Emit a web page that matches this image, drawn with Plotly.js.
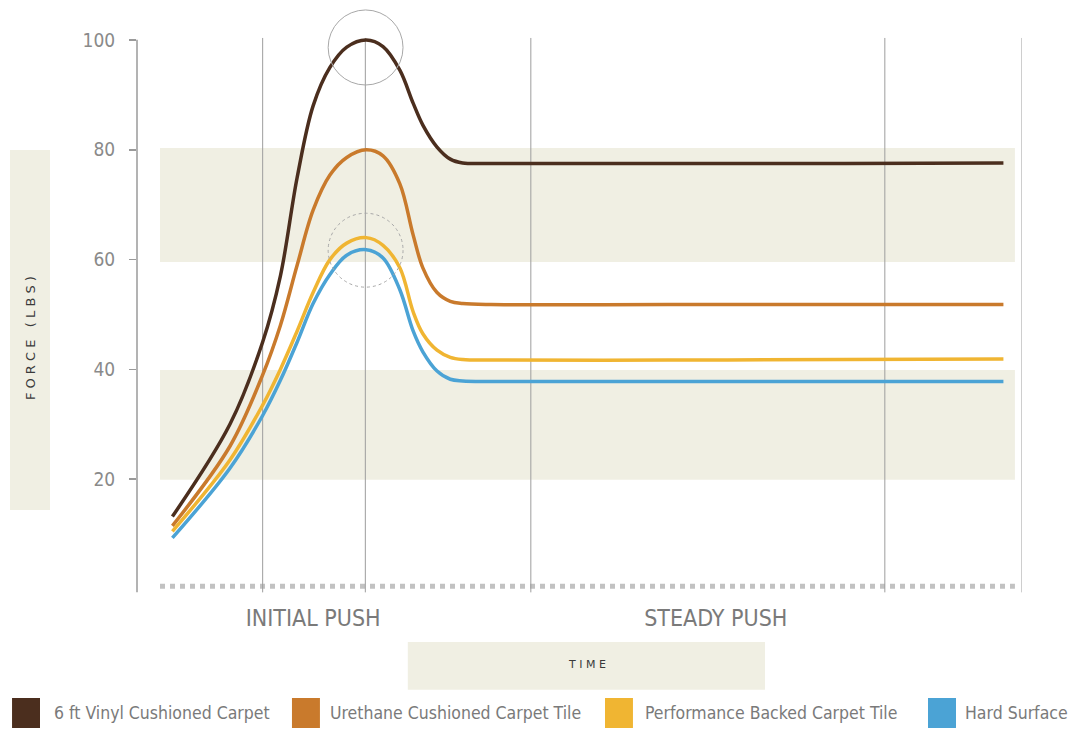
<!DOCTYPE html>
<html>
<head>
<meta charset="utf-8">
<script src="https://cdn.plot.ly/plotly-3.0.1.min.js"></script>
<style>
  html, body { margin: 0; padding: 0; background: #ffffff; }
  #chart { width: 1070px; height: 729px; }
</style>
</head>
<body>
<div id="chart"></div>
<script>
// ---- data (time in arbitrary units, force in lbs) ----
const time = [4.0, 10.5, 14.2, 16.2, 18.1, 19.9, 21.8, 23.7, 25.9, 27.8, 29.7, 31.2, 32.3, 33.9, 35.4, 36.8, 40, 60, 80, 97.9];
const vinylCushioned    = [13.2, 30.0, 45.0, 57.0, 75.0, 88.0, 95.0, 98.7, 100.0, 98.8, 94.5, 88.5, 84.5, 80.5, 78.3, 77.6, 77.5, 77.5, 77.5, 77.6];
const urethaneCushioned = [11.5, 26.0, 39.0, 48.0, 59.0, 69.0, 75.4, 78.6, 80.0, 78.9, 73.8, 64.5, 58.5, 54.0, 52.4, 52.0, 51.8, 51.8, 51.8, 51.8];
const performanceBacked = [10.5, 23.5, 33.5, 40.0, 47.0, 54.0, 60.0, 63.0, 64.0, 62.6, 58.5, 50.5, 46.5, 43.5, 42.2, 41.8, 41.7, 41.7, 41.8, 41.9];
const hardSurface       = [9.3, 22.0, 31.6, 38.0, 45.0, 52.0, 57.3, 60.8, 61.8, 60.3, 54.5, 47.0, 43.2, 39.7, 38.2, 37.9, 37.8, 37.8, 37.8, 37.8];

const seriesNames = ["6 ft Vinyl Cushioned Carpet", "Urethane Cushioned Carpet Tile", "Performance Backed Carpet Tile", "Hard Surface"];
const seriesValues = [vinylCushioned, urethaneCushioned, performanceBacked, hardSurface];
const seriesColors = ["#4b2e1e", "#c97a2c", "#f0b532", "#4ba3d5"];

const yTickVals = [20, 40, 60, 80, 100];
const phaseLabels = ["INITIAL PUSH", "STEADY PUSH"];
const phasePositions = [19.9, 65.4];
const phaseBoundaries = [14.2, 25.8, 44.5, 84.5, 100];

const FONT = "'DejaVu Sans Condensed', 'Liberation Sans Narrow', 'Roboto', sans-serif";

const traces = seriesValues.map((vals, i) => ({
  x: time, y: vals, type: "scatter", mode: "lines",
  line: { color: seriesColors[i], width: 3.5, shape: "spline", smoothing: 1 },
  name: seriesNames[i], showlegend: false, hoverinfo: "x+y+name"
}));

const dotFill = "rgba(200,198,155,0.28)";
const shapes = [
  // dotted bands
  { type: "rect", xref: "paper", yref: "paper", x0: 0.026, x1: 0.992, y0: 0.584, y1: 0.7875, fillcolor: dotFill, line: { width: 0 }, layer: "below" },
  { type: "rect", xref: "paper", yref: "paper", x0: 0.026, x1: 0.992, y0: 0.195, y1: 0.391, fillcolor: dotFill, line: { width: 0 }, layer: "below" },
  { type: "rect", xref: "paper", yref: "paper", x0: -0.1435, x1: -0.0983, y0: 0.141, y1: 0.784, fillcolor: dotFill, line: { width: 0 }, layer: "below" },
  { type: "rect", xref: "paper", yref: "paper", x0: 0.306, x1: 0.7096, y0: -0.180, y1: -0.0946, fillcolor: dotFill, line: { width: 0 }, layer: "below" },
  // bottom hatched strip
  { type: "line", xref: "paper", yref: "paper", x0: 0.026, x1: 0.992, y0: 0.005, y1: 0.005, line: { color: "#c2c2c2", width: 5, dash: "dot" }, layer: "below" },
  // y axis line
  { type: "line", xref: "paper", yref: "paper", x0: 0, x1: 0, y0: -0.006, y1: 0.981, line: { color: "#9a9a9a", width: 1.5 }, layer: "below" },
  // peak circles
  { type: "circle", xref: "paper", yref: "paper", x0: 0.216, x1: 0.3006, y0: 0.900, y1: 1.034, line: { color: "#a8a8a8", width: 1 } },
  { type: "circle", xref: "paper", yref: "paper", x0: 0.216, x1: 0.3006, y0: 0.539, y1: 0.671, line: { color: "#a8a8a8", width: 1, dash: "dot" } }
];
phaseBoundaries.forEach(b => {
  shapes.push({ type: "line", xref: "x", yref: "paper", x0: b, x1: b, y0: -0.006, y1: 0.984, line: { color: "#9d9d9d", width: 1 }, layer: "below" });
});

const annotations = [
  { text: "F O R C E   ( L B S )", textangle: -90, xref: "paper", yref: "paper", x: -0.1209, y: 0.448,
    xanchor: "center", yanchor: "middle", showarrow: false,
    font: { size: 13, color: "#3a3a3a", family: "'DejaVu Sans', sans-serif" } },
  { text: "T I M E", xref: "paper", yref: "paper", x: 0.508, y: -0.1345,
    xanchor: "center", yanchor: "middle", showarrow: false,
    font: { size: 11, color: "#3a3a3a", family: "'DejaVu Sans', sans-serif" } }
];

// legend row (swatch + label), positioned in paper units
const legendSwatchX = [-0.1412, 0.1751, 0.5288, 0.8938];
const legendTextX = [-0.0960, 0.2158, 0.5718, 0.9333];
seriesNames.forEach((n, i) => {
  shapes.push({ type: "rect", xref: "paper", yref: "paper", x0: legendSwatchX[i], x1: legendSwatchX[i] + 0.0316,
    y0: -0.2482, y1: -0.1946, fillcolor: seriesColors[i], line: { width: 0 } });
  annotations.push({ text: n, xref: "paper", yref: "paper", x: legendTextX[i], y: -0.2214,
    xanchor: "left", yanchor: "middle", showarrow: false,
    font: { size: 17.5, color: "#7a7a7a", family: FONT } });
});

const layout = {
  width: 1070, height: 729,
  margin: { l: 137, r: 48, t: 29, b: 140, autoexpand: false },
  paper_bgcolor: "#ffffff", plot_bgcolor: "rgba(0,0,0,0)",
  font: { family: FONT, color: "#808080" },
  xaxis: {
    range: [0, 100], showgrid: false, zeroline: false, showline: false,
    tickvals: phasePositions, ticktext: phaseLabels, ticks: "",
    tickfont: { size: 23, color: "#7a7a7a", family: FONT }, ticklabelstandoff: 13, automargin: false
  },
  yaxis: {
    range: [0, 102], showgrid: false, zeroline: false, showline: false,
    tickvals: yTickVals, ticks: "outside", ticklen: 7, tickcolor: "#9a9a9a", tickwidth: 1.5,
    tickfont: { size: 19, color: "#8a8a8a", family: FONT }, ticklabelstandoff: 10, automargin: false
  },
  shapes: shapes,
  annotations: annotations,
  showlegend: false
};

Plotly.newPlot("chart", traces, layout, { displayModeBar: false, staticPlot: true });
</script>
</body>
</html>
